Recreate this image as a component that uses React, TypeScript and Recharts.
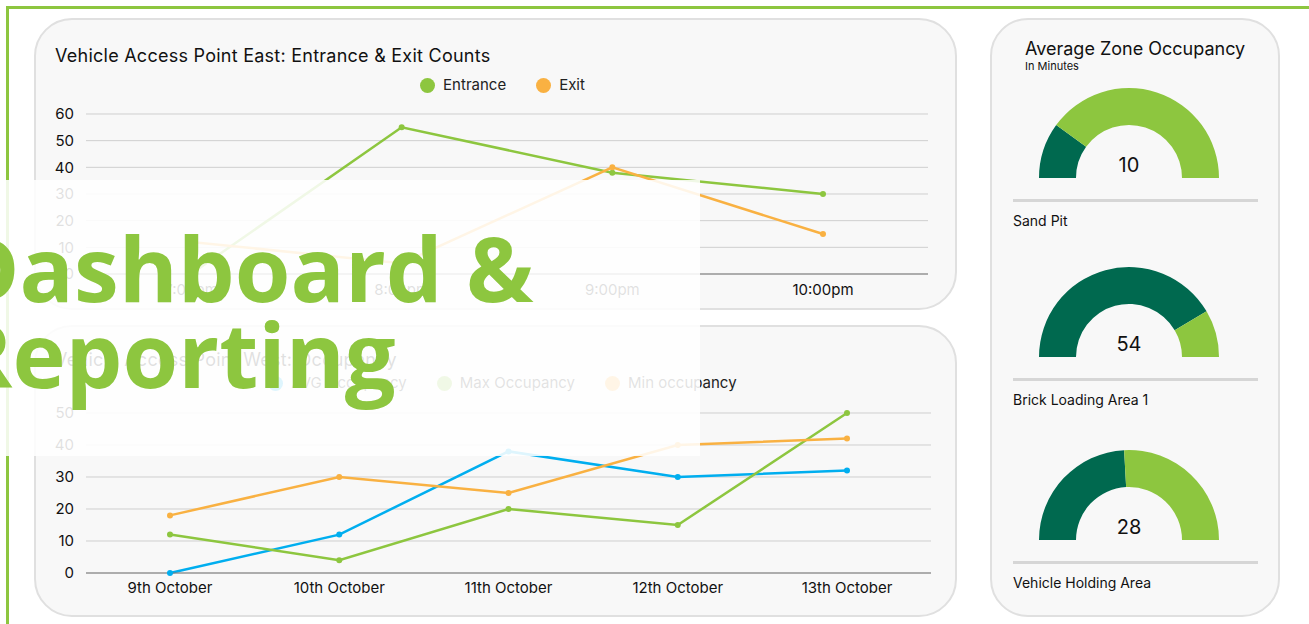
import React from "react";
import { LineChart, Line, XAxis, YAxis, CartesianGrid, Legend, PieChart, Pie, Cell } from "recharts";

const GREEN = "#8dc63f";
const ORANGE = "#f9b142";
const BLUE = "#00aeef";
const DARK = "#00694f";
const FONT = "Inter, 'Noto Sans', sans-serif";

// Vehicle Access Point East
const eastHours = ["7:00pm", "8:00pm", "9:00pm", "10:00pm"];
const eastEntrance = [0, 55, 38, 30];
const eastExit = [12, 4, 40, 15];
const eastTicks = [0, 10, 20, 30, 40, 50, 60];

// Vehicle Access Point West
const westDays = ["9th October", "10th October", "11th October", "12th October", "13th October"];
const westAvg = [0, 12, 38, 30, 32];
const westMax = [12, 4, 20, 15, 50];
const westMin = [18, 30, 25, 40, 42];
const westTicks = [0, 10, 20, 30, 40, 50];

// zone gauges
const zoneNames = ["Sand Pit", "Brick Loading Area 1", "Vehicle Holding Area"];
const zoneValues = [10, 54, 28];
const zoneRest = [40, 11, 30];
const zoneBase = [178, 357, 540];

const eastData = eastHours.map((h, i) => ({ h, entrance: eastEntrance[i], exit: eastExit[i] }));
const westData = westDays.map((d, i) => ({ d, avg: westAvg[i], max: westMax[i], min: westMin[i] }));

function DotLegend({ payload }: any) {
  return (
    <div style={{ display: "flex", justifyContent: "center", gap: 30, fontSize: 15, color: "#222", fontFamily: FONT }}>
      {(payload || []).map((p: any) => (
        <span key={p.value} style={{ display: "flex", alignItems: "center", lineHeight: "18px" }}>
          <span style={{ width: 15, height: 15, borderRadius: "50%", background: p.color, marginRight: 8 }} />
          {p.value}
        </span>
      ))}
    </div>
  );
}

const tickStyle = { fontSize: 15, fill: "#111", fontFamily: FONT };

function Card({ left, top, width, height }: any) {
  return (
    <div
      style={{
        position: "absolute",
        left,
        top,
        width,
        height,
        boxSizing: "border-box",
        background: "#f8f8f8",
        border: "2px solid #e0e0e0",
        borderRadius: 38,
      }}
    />
  );
}

function Gauge({ i }: { i: number }) {
  const base = zoneBase[i];
  const data = [
    { name: "value", value: zoneValues[i] },
    { name: "rest", value: zoneRest[i] },
  ];
  return (
    <>
      <div style={{ position: "absolute", left: 1029, top: base - 95 }}>
        <PieChart width={200} height={100} margin={{ top: 0, right: 0, bottom: 0, left: 0 }}>
          <Pie
            data={data}
            dataKey="value"
            cx={100}
            cy={95}
            startAngle={180}
            endAngle={0}
            innerRadius={53}
            outerRadius={90}
            stroke="none"
            isAnimationActive={false}
          >
            <Cell fill={DARK} />
            <Cell fill={GREEN} />
          </Pie>
        </PieChart>
      </div>
      <div style={{ position: "absolute", left: 1089, width: 80, top: base - 25, textAlign: "center", fontSize: 20, color: "#111", fontFamily: FONT }}>
        {zoneValues[i]}
      </div>
      <div style={{ position: "absolute", left: 1013, top: base + 21, width: 245, height: 3, background: "#d6d6d6" }} />
      <div style={{ position: "absolute", left: 1013, top: base + 34, fontSize: 14, color: "#111", fontFamily: FONT }}>
        {zoneNames[i]}
      </div>
    </>
  );
}

export default function App() {
  return (
    <div style={{ position: "absolute", left: 0, top: 0, width: 1309, height: 624, overflow: "hidden", background: "#fff" }}>
      <div style={{ position: "absolute", left: 6, top: 6, width: 1400, height: 700, border: `3px solid ${GREEN}` }} />

      <Card left={34} top={18} width={923} height={292} />
      <Card left={34} top={325} width={923} height={292} />
      <Card left={990} top={18} width={290} height={599} />

      <div style={{ position: "absolute", left: 55, top: 45, fontSize: 18, letterSpacing: 0.25, color: "#111", fontFamily: FONT }}>
        Vehicle Access Point East: Entrance &amp; Exit Counts
      </div>
      <div style={{ position: "absolute", left: 34, top: 18 }}>
        <LineChart width={923} height={292} data={eastData} margin={{ top: 96, right: 29, left: 0, bottom: 6 }}>
          <CartesianGrid vertical={false} stroke="#cfcfcf" />
          <XAxis dataKey="h" padding={{ left: 105, right: 105 }} tickLine={false} tickSize={0} tickMargin={10} axisLine={{ stroke: "#777" }} tick={tickStyle} />
          <YAxis domain={[0, 60]} ticks={eastTicks} width={52} tickLine={false} axisLine={false} tickSize={0} tickMargin={12} tick={tickStyle} />
          <Legend verticalAlign="middle" content={<DotLegend />} wrapperStyle={{ top: 58, left: 0, width: 937 }} />
          <Line dataKey="entrance" name="Entrance" stroke={GREEN} strokeWidth={2.5} dot={{ r: 3, fill: GREEN, stroke: GREEN, strokeWidth: 0 }} isAnimationActive={false} />
          <Line dataKey="exit" name="Exit" stroke={ORANGE} strokeWidth={2.5} dot={{ r: 3, fill: ORANGE, stroke: ORANGE, strokeWidth: 0 }} isAnimationActive={false} />
        </LineChart>
      </div>

      <div style={{ position: "absolute", left: 55, top: 349, fontSize: 18, letterSpacing: 0.25, color: "#111", fontFamily: FONT }}>
        Vehicle Access Point West: Occupancy
      </div>
      <div style={{ position: "absolute", left: 34, top: 325 }}>
        <LineChart width={923} height={292} data={westData} margin={{ top: 88, right: 26, left: 0, bottom: 14 }}>
          <CartesianGrid vertical={false} stroke="#cfcfcf" />
          <XAxis dataKey="d" padding={{ left: 84, right: 84 }} tickLine={false} tickSize={0} tickMargin={9} axisLine={{ stroke: "#777" }} tick={tickStyle} />
          <YAxis domain={[0, 50]} ticks={westTicks} width={52} tickLine={false} axisLine={false} tickSize={0} tickMargin={12} tick={tickStyle} />
          <Legend verticalAlign="middle" content={<DotLegend />} wrapperStyle={{ top: 49, left: 0, width: 937 }} />
          <Line dataKey="avg" name="AVG Occupancy" stroke={BLUE} strokeWidth={2.5} dot={{ r: 3, fill: BLUE, stroke: BLUE, strokeWidth: 0 }} isAnimationActive={false} />
          <Line dataKey="max" name="Max Occupancy" stroke={GREEN} strokeWidth={2.5} dot={{ r: 3, fill: GREEN, stroke: GREEN, strokeWidth: 0 }} isAnimationActive={false} />
          <Line dataKey="min" name="Min occupancy" stroke={ORANGE} strokeWidth={2.5} dot={{ r: 3, fill: ORANGE, stroke: ORANGE, strokeWidth: 0 }} isAnimationActive={false} />
        </LineChart>
      </div>

      <div style={{ position: "absolute", left: 1025, top: 38, fontSize: 18, color: "#111", fontFamily: FONT }}>
        Average Zone Occupancy
      </div>
      <div style={{ position: "absolute", left: 1025, top: 59, fontSize: 11, color: "#111", fontFamily: FONT }}>
        In Minutes
      </div>
      {zoneNames.map((_, i) => (
        <Gauge key={i} i={i} />
      ))}

      <div style={{ position: "absolute", left: 0, top: 180, width: 700, height: 276, background: "rgba(255,255,255,0.87)" }} />
      <div
        style={{
          position: "absolute",
          left: -47,
          top: 224,
          fontFamily: "'Open Sans', sans-serif",
          fontWeight: 700,
          fontSize: 90,
          lineHeight: "86px",
          color: GREEN,
          whiteSpace: "pre",
        }}
      >
        {"Dashboard &\nReporting"}
      </div>
    </div>
  );
}
